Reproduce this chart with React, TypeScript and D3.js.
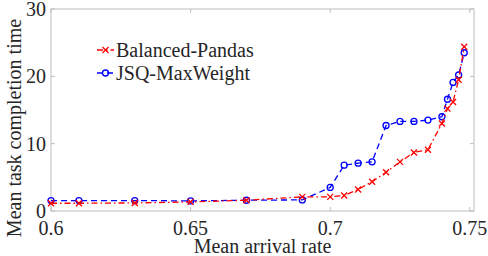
import React from 'react';
import * as d3 from 'd3';

const width = 488;
const height = 256;
const margin = { left: 51, right: 14, top: 9, bottom: 45 };

const arrivalRates = [
  0.6, 0.61, 0.63, 0.65, 0.67, 0.69, 0.7, 0.705, 0.71, 0.715, 0.72, 0.725, 0.73,
  0.735, 0.74, 0.742, 0.744, 0.746, 0.748,
];
const balancedPandas = [
  1.15, 1.15, 1.2, 1.35, 1.6, 2.1, 2.1, 2.3, 3.2, 4.35, 5.75, 7.3, 8.7, 9.1, 13.0,
  15.2, 16.2, 19.5, 24.4,
];
const jsqMaxWeight = [
  1.55, 1.55, 1.55, 1.5, 1.6, 1.65, 3.5, 6.8, 7.1, 7.3, 12.7, 13.3, 13.3, 13.5,
  14.0, 16.6, 19.1, 20.2, 23.5,
];
const xTicks = [0.6, 0.65, 0.7, 0.75];
const yTicks = [0, 10, 20, 30];
const xTickLabels = ['0.6', '0.65', '0.7', '0.75'];
const yTickLabels = ['0', '10', '20', '30'];

const font = '"Liberation Serif", "Times New Roman", serif';
const red = '#ff0000';
const blue = '#0000ff';
const axisColor = '#bdbdbd';
const textColor = '#262626';

const XMark = ({ cx, cy, color }: { cx: number; cy: number; color: string }) => (
  <path
    d={`M${cx - 3},${cy - 3}L${cx + 3},${cy + 3}M${cx - 3},${cy + 3}L${cx + 3},${cy - 3}`}
    stroke={color}
    strokeWidth={1.3}
    fill="none"
  />
);

const OMark = ({ cx, cy, color }: { cx: number; cy: number; color: string }) => (
  <circle cx={cx} cy={cy} r={3} stroke={color} strokeWidth={1.3} fill="none" />
);

export default function App() {
  const x = d3
    .scaleLinear()
    .domain([0.6, 0.7515])
    .range([margin.left, width - margin.right]);
  const y = d3
    .scaleLinear()
    .domain([0, 30])
    .range([height - margin.bottom, margin.top]);

  const line = d3
    .line<[number, number]>()
    .x((d) => x(d[0]))
    .y((d) => y(d[1]));

  const bpPts = arrivalRates.map((r, i) => [r, balancedPandas[i]] as [number, number]);
  const jsqPts = arrivalRates.map((r, i) => [r, jsqMaxWeight[i]] as [number, number]);

  const x0 = x.range()[0];
  const x1 = x.range()[1];
  const y0 = y.range()[0];
  const y1 = y.range()[1];
  const tick = 4;

  return (
    <svg
      width={width}
      height={height}
      style={{ position: 'absolute', left: 0, top: 0, background: '#fff' }}
      fontFamily={font}
    >
      {/* axis box */}
      <rect x={x0} y={y1} width={x1 - x0} height={y0 - y1} fill="none" stroke={axisColor} strokeWidth={1} />
      {xTicks.map((t, i) => (
        <g key={'x' + t}>
          <line x1={x(t)} x2={x(t)} y1={y0} y2={y0 - tick} stroke={axisColor} />
          <line x1={x(t)} x2={x(t)} y1={y1} y2={y1 + tick} stroke={axisColor} />
          <text x={x(t)} y={y0 + 24} textAnchor="middle" fontSize={20} fill={textColor}>
            {xTickLabels[i]}
          </text>
        </g>
      ))}
      {yTicks.map((t, i) => (
        <g key={'y' + t}>
          <line x1={x0} x2={x0 + tick} y1={y(t)} y2={y(t)} stroke={axisColor} />
          <line x1={x1} x2={x1 - tick} y1={y(t)} y2={y(t)} stroke={axisColor} />
          <text x={x0 - 5} y={y(t)} dy="0.35em" textAnchor="end" fontSize={20} fill={textColor}>
            {yTickLabels[i]}
          </text>
        </g>
      ))}
      <text x={(x0 + x1) / 2} y={253} textAnchor="middle" fontSize={20} fill={textColor}>
        Mean arrival rate
      </text>
      <text
        transform={`translate(21,${(y0 + y1) / 2 + 18}) rotate(-90)`}
        textAnchor="middle"
        fontSize={20}
        fill={textColor}
      >
        Mean task completion time
      </text>

      {/* series */}
      <path d={line(jsqPts) ?? ''} fill="none" stroke={blue} strokeWidth={1.3} strokeDasharray="6,4" />
      {jsqPts.map((p, i) => (
        <OMark key={'o' + i} cx={x(p[0])} cy={y(p[1])} color={blue} />
      ))}
      <path d={line(bpPts) ?? ''} fill="none" stroke={red} strokeWidth={1.3} strokeDasharray="6,3,1.5,3" />
      {bpPts.map((p, i) => (
        <XMark key={'x' + i} cx={x(p[0])} cy={y(p[1])} color={red} />
      ))}

      {/* legend */}
      <g>
        <line x1={97} x2={114} y1={50} y2={50} stroke={red} strokeWidth={1.3} strokeDasharray="6,3,1.5,3" />
        <XMark cx={105.5} cy={50} color={red} />
        <text x={116} y={50} dy="0.35em" fontSize={20} fill={textColor}>
          Balanced-Pandas
        </text>
        <line x1={97} x2={114} y1={73} y2={73} stroke={blue} strokeWidth={1.3} strokeDasharray="6,4" />
        <OMark cx={105.5} cy={73} color={blue} />
        <text x={116} y={73} dy="0.35em" fontSize={20} fill={textColor}>
          JSQ-MaxWeight
        </text>
      </g>
    </svg>
  );
}
